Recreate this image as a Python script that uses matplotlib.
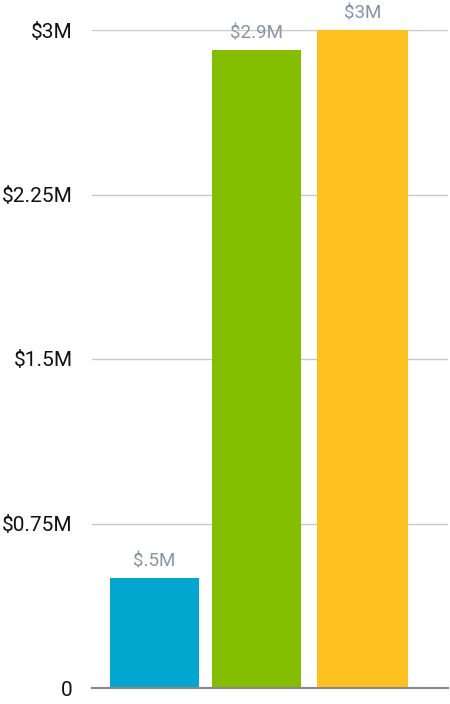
import matplotlib.pyplot as plt
import numpy as np

plt.rcParams['font.family'] = ['Roboto', 'DejaVu Sans']

categories = ['A', 'B', 'C']
values = [0.5, 2.91, 3.0]
value_labels = ['$.5M', '$2.9M', '$3M']
colors = ['#02a6cf', '#84be00', '#fec120']
yticks = [0, 0.75, 1.5, 2.25, 3]
ytick_labels = ['0', '$0.75M', '$1.5M', '$2.25M', '$3M']

fig = plt.figure(figsize=(4.5, 7.04), dpi=100)
ax = fig.add_axes([92 / 450, 1 - 688 / 704, 356 / 450, 658 / 704])

x = np.array([0, 0.98, 2.0])
bars = ax.bar(x, values, width=[0.85, 0.85, 0.88], color=colors, zorder=3)

for xi, v, lab in zip(x, values, value_labels):
    ax.text(xi, v + 0.035, lab, ha='center', va='bottom', fontsize=13.5,
            color='#8596a6', clip_on=False, zorder=4)

ax.set_ylim(0, 3)
ax.set_xlim(-0.6, 2.82)
ax.set_yticks(yticks)
ax.set_yticklabels(ytick_labels, fontsize=15, color='#111111')
ax.set_xticks([])
ax.tick_params(axis='y', length=0, pad=14)
ax.grid(axis='y', color='#c8c8c8', linewidth=1, zorder=0)

for s in ['top', 'right', 'left']:
    ax.spines[s].set_visible(False)
ax.spines['bottom'].set_color('#888888')
ax.spines['bottom'].set_linewidth(1.5)
ax.spines['bottom'].set_zorder(5)

plt.savefig('out.png', dpi=100)
